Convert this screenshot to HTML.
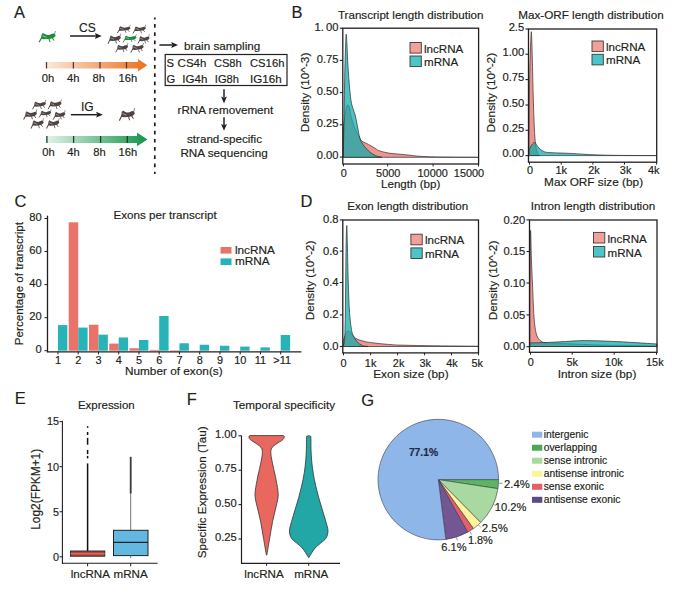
<!DOCTYPE html><html><head><meta charset="utf-8"><style>html,body{margin:0;padding:0;background:#fff;width:700px;height:602px;overflow:hidden}text{font-family:"Liberation Sans",sans-serif}</style></head><body><svg width="700" height="602" viewBox="0 0 700 602" style="display:block" font-family='"Liberation Sans", sans-serif'><rect width="700" height="602" fill="#fff"/><text x="14" y="17.5" font-size="16.5" fill="#231f20" stroke="#231f20" stroke-width="0.18">A</text><g transform="translate(38.5,32) scale(1.233,1.137)" fill="#1f8b3e" color="#1f8b3e"><path d="M2,6.2 L2.4,2.4 L3.5,0.9 C5.2,2 6.6,2.7 8,2.6 C9.5,2.4 10.8,1.5 12.2,1.3 L13.5,1.9 L13.9,3.5 L11.8,5.5 C8.5,6.3 5,6.5 2,6.2 Z"/><path d="M3.1,3.3 L6.6,4.7" fill="none" stroke-width="0.55" stroke="#fff" stroke-opacity="0.75"/><path d="M2.6,5 L0.4,9.1" fill="none" stroke-width="1" stroke="currentColor"/><path d="M8.4,5.9 L9.4,8.8 M11.2,5.4 L12.8,7.5" fill="none" stroke-width="0.85" stroke="currentColor"/><path d="M13,1.8 L13.8,-0.9" fill="none" stroke-width="0.6" stroke="currentColor"/></g><text x="79" y="32.4" font-size="12" fill="#231f20" stroke="#231f20" stroke-width="0.18">CS</text><line x1="70" y1="36" x2="95.9" y2="36" stroke="#231f20" stroke-width="1.5"/><path d="M101.7,36 L94.9,33.1 L96.10000000000001,36 L94.9,38.9 Z" fill="#231f20"/><g transform="translate(116.9,25.6) scale(0.973,0.821)" fill="#4d4541" color="#4d4541"><path d="M2,6.2 L2.4,2.4 L3.5,0.9 C5.2,2 6.6,2.7 8,2.6 C9.5,2.4 10.8,1.5 12.2,1.3 L13.5,1.9 L13.9,3.5 L11.8,5.5 C8.5,6.3 5,6.5 2,6.2 Z"/><path d="M3.1,3.3 L6.6,4.7" fill="none" stroke-width="0.55" stroke="#fff" stroke-opacity="0.75"/><path d="M2.6,5 L0.4,9.1" fill="none" stroke-width="1" stroke="currentColor"/><path d="M8.4,5.9 L9.4,8.8 M11.2,5.4 L12.8,7.5" fill="none" stroke-width="0.85" stroke="currentColor"/><path d="M13,1.8 L13.8,-0.9" fill="none" stroke-width="0.6" stroke="currentColor"/></g><g transform="translate(132.6,25.6) scale(0.953,0.863)" fill="#4d4541" color="#4d4541"><path d="M2,6.2 L2.4,2.4 L3.5,0.9 C5.2,2 6.6,2.7 8,2.6 C9.5,2.4 10.8,1.5 12.2,1.3 L13.5,1.9 L13.9,3.5 L11.8,5.5 C8.5,6.3 5,6.5 2,6.2 Z"/><path d="M3.1,3.3 L6.6,4.7" fill="none" stroke-width="0.55" stroke="#fff" stroke-opacity="0.75"/><path d="M2.6,5 L0.4,9.1" fill="none" stroke-width="1" stroke="currentColor"/><path d="M8.4,5.9 L9.4,8.8 M11.2,5.4 L12.8,7.5" fill="none" stroke-width="0.85" stroke="currentColor"/><path d="M13,1.8 L13.8,-0.9" fill="none" stroke-width="0.6" stroke="currentColor"/></g><g transform="translate(107.6,34.5) scale(0.953,1.011)" fill="#4d4541" color="#4d4541"><path d="M2,6.2 L2.4,2.4 L3.5,0.9 C5.2,2 6.6,2.7 8,2.6 C9.5,2.4 10.8,1.5 12.2,1.3 L13.5,1.9 L13.9,3.5 L11.8,5.5 C8.5,6.3 5,6.5 2,6.2 Z"/><path d="M3.1,3.3 L6.6,4.7" fill="none" stroke-width="0.55" stroke="#fff" stroke-opacity="0.75"/><path d="M2.6,5 L0.4,9.1" fill="none" stroke-width="1" stroke="currentColor"/><path d="M8.4,5.9 L9.4,8.8 M11.2,5.4 L12.8,7.5" fill="none" stroke-width="0.85" stroke="currentColor"/><path d="M13,1.8 L13.8,-0.9" fill="none" stroke-width="0.6" stroke="currentColor"/></g><g transform="translate(137.6,35.2) scale(0.853,0.937)" fill="#4d4541" color="#4d4541"><path d="M2,6.2 L2.4,2.4 L3.5,0.9 C5.2,2 6.6,2.7 8,2.6 C9.5,2.4 10.8,1.5 12.2,1.3 L13.5,1.9 L13.9,3.5 L11.8,5.5 C8.5,6.3 5,6.5 2,6.2 Z"/><path d="M3.1,3.3 L6.6,4.7" fill="none" stroke-width="0.55" stroke="#fff" stroke-opacity="0.75"/><path d="M2.6,5 L0.4,9.1" fill="none" stroke-width="1" stroke="currentColor"/><path d="M8.4,5.9 L9.4,8.8 M11.2,5.4 L12.8,7.5" fill="none" stroke-width="0.85" stroke="currentColor"/><path d="M13,1.8 L13.8,-0.9" fill="none" stroke-width="0.6" stroke="currentColor"/></g><g transform="translate(115.4,43.8) scale(0.907,0.937)" fill="#4d4541" color="#4d4541"><path d="M2,6.2 L2.4,2.4 L3.5,0.9 C5.2,2 6.6,2.7 8,2.6 C9.5,2.4 10.8,1.5 12.2,1.3 L13.5,1.9 L13.9,3.5 L11.8,5.5 C8.5,6.3 5,6.5 2,6.2 Z"/><path d="M3.1,3.3 L6.6,4.7" fill="none" stroke-width="0.55" stroke="#fff" stroke-opacity="0.75"/><path d="M2.6,5 L0.4,9.1" fill="none" stroke-width="1" stroke="currentColor"/><path d="M8.4,5.9 L9.4,8.8 M11.2,5.4 L12.8,7.5" fill="none" stroke-width="0.85" stroke="currentColor"/><path d="M13,1.8 L13.8,-0.9" fill="none" stroke-width="0.6" stroke="currentColor"/></g><g transform="translate(130.4,43.8) scale(0.953,0.968)" fill="#4d4541" color="#4d4541"><path d="M2,6.2 L2.4,2.4 L3.5,0.9 C5.2,2 6.6,2.7 8,2.6 C9.5,2.4 10.8,1.5 12.2,1.3 L13.5,1.9 L13.9,3.5 L11.8,5.5 C8.5,6.3 5,6.5 2,6.2 Z"/><path d="M3.1,3.3 L6.6,4.7" fill="none" stroke-width="0.55" stroke="#fff" stroke-opacity="0.75"/><path d="M2.6,5 L0.4,9.1" fill="none" stroke-width="1" stroke="currentColor"/><path d="M8.4,5.9 L9.4,8.8 M11.2,5.4 L12.8,7.5" fill="none" stroke-width="0.85" stroke="currentColor"/><path d="M13,1.8 L13.8,-0.9" fill="none" stroke-width="0.6" stroke="currentColor"/></g><g transform="translate(122.6,34.9) scale(1.000,0.821)" fill="#1f8b3e" color="#1f8b3e"><path d="M2,6.2 L2.4,2.4 L3.5,0.9 C5.2,2 6.6,2.7 8,2.6 C9.5,2.4 10.8,1.5 12.2,1.3 L13.5,1.9 L13.9,3.5 L11.8,5.5 C8.5,6.3 5,6.5 2,6.2 Z"/><path d="M3.1,3.3 L6.6,4.7" fill="none" stroke-width="0.55" stroke="#fff" stroke-opacity="0.75"/><path d="M2.6,5 L0.4,9.1" fill="none" stroke-width="1" stroke="currentColor"/><path d="M8.4,5.9 L9.4,8.8 M11.2,5.4 L12.8,7.5" fill="none" stroke-width="0.85" stroke="currentColor"/><path d="M13,1.8 L13.8,-0.9" fill="none" stroke-width="0.6" stroke="currentColor"/></g><defs><linearGradient id="og" x1="0" x2="1"><stop offset="0" stop-color="#fbe9dd"/><stop offset="1" stop-color="#e8711f"/></linearGradient><linearGradient id="gg" x1="0" x2="1"><stop offset="0" stop-color="#e3f3e8"/><stop offset="1" stop-color="#12954a"/></linearGradient></defs><path d="M45.7,62 L138,62 L138,59 L147.3,65.2 L138,71.4 L138,68.5 L45.7,68.5 Z" fill="url(#og)"/><line x1="46.5" y1="62" x2="46.5" y2="68.5" stroke="#5a3a28" stroke-width="1.3"/><line x1="73.4" y1="62" x2="73.4" y2="68.5" stroke="#5a3a28" stroke-width="1.3"/><line x1="100" y1="62" x2="100" y2="68.5" stroke="#5a3a28" stroke-width="1.3"/><line x1="126.5" y1="62" x2="126.5" y2="68.5" stroke="#5a3a28" stroke-width="1.3"/><text x="48" y="82" font-size="11.2" text-anchor="middle" fill="#231f20" stroke="#231f20" stroke-width="0.18">0h</text><text x="73.2" y="82" font-size="11.2" text-anchor="middle" fill="#231f20" stroke="#231f20" stroke-width="0.18">4h</text><text x="98.8" y="82" font-size="11.2" text-anchor="middle" fill="#231f20" stroke="#231f20" stroke-width="0.18">8h</text><text x="127.8" y="82" font-size="11.2" text-anchor="middle" fill="#231f20" stroke="#231f20" stroke-width="0.18">16h</text><line x1="154.8" y1="17.6" x2="154.8" y2="174" stroke="#231f20" stroke-width="1.7" stroke-dasharray="3.7,4.5" stroke-dashoffset="1.7"/><g transform="translate(32.1,100.7) scale(0.993,0.937)" fill="#4d4541" color="#4d4541"><path d="M2,6.2 L2.4,2.4 L3.5,0.9 C5.2,2 6.6,2.7 8,2.6 C9.5,2.4 10.8,1.5 12.2,1.3 L13.5,1.9 L13.9,3.5 L11.8,5.5 C8.5,6.3 5,6.5 2,6.2 Z"/><path d="M3.1,3.3 L6.6,4.7" fill="none" stroke-width="0.55" stroke="#fff" stroke-opacity="0.75"/><path d="M2.6,5 L0.4,9.1" fill="none" stroke-width="1" stroke="currentColor"/><path d="M8.4,5.9 L9.4,8.8 M11.2,5.4 L12.8,7.5" fill="none" stroke-width="0.85" stroke="currentColor"/><path d="M13,1.8 L13.8,-0.9" fill="none" stroke-width="0.6" stroke="currentColor"/></g><g transform="translate(47.7,100.3) scale(0.993,0.979)" fill="#4d4541" color="#4d4541"><path d="M2,6.2 L2.4,2.4 L3.5,0.9 C5.2,2 6.6,2.7 8,2.6 C9.5,2.4 10.8,1.5 12.2,1.3 L13.5,1.9 L13.9,3.5 L11.8,5.5 C8.5,6.3 5,6.5 2,6.2 Z"/><path d="M3.1,3.3 L6.6,4.7" fill="none" stroke-width="0.55" stroke="#fff" stroke-opacity="0.75"/><path d="M2.6,5 L0.4,9.1" fill="none" stroke-width="1" stroke="currentColor"/><path d="M8.4,5.9 L9.4,8.8 M11.2,5.4 L12.8,7.5" fill="none" stroke-width="0.85" stroke="currentColor"/><path d="M13,1.8 L13.8,-0.9" fill="none" stroke-width="0.6" stroke="currentColor"/></g><g transform="translate(23.2,110.3) scale(0.987,1.021)" fill="#4d4541" color="#4d4541"><path d="M2,6.2 L2.4,2.4 L3.5,0.9 C5.2,2 6.6,2.7 8,2.6 C9.5,2.4 10.8,1.5 12.2,1.3 L13.5,1.9 L13.9,3.5 L11.8,5.5 C8.5,6.3 5,6.5 2,6.2 Z"/><path d="M3.1,3.3 L6.6,4.7" fill="none" stroke-width="0.55" stroke="#fff" stroke-opacity="0.75"/><path d="M2.6,5 L0.4,9.1" fill="none" stroke-width="1" stroke="currentColor"/><path d="M8.4,5.9 L9.4,8.8 M11.2,5.4 L12.8,7.5" fill="none" stroke-width="0.85" stroke="currentColor"/><path d="M13,1.8 L13.8,-0.9" fill="none" stroke-width="0.6" stroke="currentColor"/></g><g transform="translate(38.8,110) scale(0.893,0.821)" fill="#4d4541" color="#4d4541"><path d="M2,6.2 L2.4,2.4 L3.5,0.9 C5.2,2 6.6,2.7 8,2.6 C9.5,2.4 10.8,1.5 12.2,1.3 L13.5,1.9 L13.9,3.5 L11.8,5.5 C8.5,6.3 5,6.5 2,6.2 Z"/><path d="M3.1,3.3 L6.6,4.7" fill="none" stroke-width="0.55" stroke="#fff" stroke-opacity="0.75"/><path d="M2.6,5 L0.4,9.1" fill="none" stroke-width="1" stroke="currentColor"/><path d="M8.4,5.9 L9.4,8.8 M11.2,5.4 L12.8,7.5" fill="none" stroke-width="0.85" stroke="currentColor"/><path d="M13,1.8 L13.8,-0.9" fill="none" stroke-width="0.6" stroke="currentColor"/></g><g transform="translate(52.9,111) scale(0.893,0.947)" fill="#4d4541" color="#4d4541"><path d="M2,6.2 L2.4,2.4 L3.5,0.9 C5.2,2 6.6,2.7 8,2.6 C9.5,2.4 10.8,1.5 12.2,1.3 L13.5,1.9 L13.9,3.5 L11.8,5.5 C8.5,6.3 5,6.5 2,6.2 Z"/><path d="M3.1,3.3 L6.6,4.7" fill="none" stroke-width="0.55" stroke="#fff" stroke-opacity="0.75"/><path d="M2.6,5 L0.4,9.1" fill="none" stroke-width="1" stroke="currentColor"/><path d="M8.4,5.9 L9.4,8.8 M11.2,5.4 L12.8,7.5" fill="none" stroke-width="0.85" stroke="currentColor"/><path d="M13,1.8 L13.8,-0.9" fill="none" stroke-width="0.6" stroke="currentColor"/></g><g transform="translate(30.6,119.3) scale(0.940,1.011)" fill="#4d4541" color="#4d4541"><path d="M2,6.2 L2.4,2.4 L3.5,0.9 C5.2,2 6.6,2.7 8,2.6 C9.5,2.4 10.8,1.5 12.2,1.3 L13.5,1.9 L13.9,3.5 L11.8,5.5 C8.5,6.3 5,6.5 2,6.2 Z"/><path d="M3.1,3.3 L6.6,4.7" fill="none" stroke-width="0.55" stroke="#fff" stroke-opacity="0.75"/><path d="M2.6,5 L0.4,9.1" fill="none" stroke-width="1" stroke="currentColor"/><path d="M8.4,5.9 L9.4,8.8 M11.2,5.4 L12.8,7.5" fill="none" stroke-width="0.85" stroke="currentColor"/><path d="M13,1.8 L13.8,-0.9" fill="none" stroke-width="0.6" stroke="currentColor"/></g><g transform="translate(46.2,119.3) scale(0.940,1.011)" fill="#4d4541" color="#4d4541"><path d="M2,6.2 L2.4,2.4 L3.5,0.9 C5.2,2 6.6,2.7 8,2.6 C9.5,2.4 10.8,1.5 12.2,1.3 L13.5,1.9 L13.9,3.5 L11.8,5.5 C8.5,6.3 5,6.5 2,6.2 Z"/><path d="M3.1,3.3 L6.6,4.7" fill="none" stroke-width="0.55" stroke="#fff" stroke-opacity="0.75"/><path d="M2.6,5 L0.4,9.1" fill="none" stroke-width="1" stroke="currentColor"/><path d="M8.4,5.9 L9.4,8.8 M11.2,5.4 L12.8,7.5" fill="none" stroke-width="0.85" stroke="currentColor"/><path d="M13,1.8 L13.8,-0.9" fill="none" stroke-width="0.6" stroke="currentColor"/></g><text x="81" y="110.9" font-size="12" fill="#231f20" stroke="#231f20" stroke-width="0.18">IG</text><line x1="70.9" y1="114.7" x2="97.10000000000001" y2="114.7" stroke="#231f20" stroke-width="1.5"/><path d="M102.9,114.7 L96.10000000000001,111.8 L97.30000000000001,114.7 L96.10000000000001,117.60000000000001 Z" fill="#231f20"/><g transform="translate(118.9,109.3) scale(1.140,1.242)" fill="#4d4541" color="#4d4541"><path d="M2,6.2 L2.4,2.4 L3.5,0.9 C5.2,2 6.6,2.7 8,2.6 C9.5,2.4 10.8,1.5 12.2,1.3 L13.5,1.9 L13.9,3.5 L11.8,5.5 C8.5,6.3 5,6.5 2,6.2 Z"/><path d="M3.1,3.3 L6.6,4.7" fill="none" stroke-width="0.55" stroke="#fff" stroke-opacity="0.75"/><path d="M2.6,5 L0.4,9.1" fill="none" stroke-width="1" stroke="currentColor"/><path d="M8.4,5.9 L9.4,8.8 M11.2,5.4 L12.8,7.5" fill="none" stroke-width="0.85" stroke="currentColor"/><path d="M13,1.8 L13.8,-0.9" fill="none" stroke-width="0.6" stroke="currentColor"/></g><path d="M45.7,136 L137,136 L137,132.6 L147.4,139.45 L137,146.3 L137,142.9 L45.7,142.9 Z" fill="url(#gg)"/><line x1="46.9" y1="136" x2="46.9" y2="142.9" stroke="#1a3f2c" stroke-width="1.3"/><line x1="73.6" y1="136" x2="73.6" y2="142.9" stroke="#1a3f2c" stroke-width="1.3"/><line x1="100.6" y1="136" x2="100.6" y2="142.9" stroke="#1a3f2c" stroke-width="1.3"/><line x1="127.3" y1="136" x2="127.3" y2="142.9" stroke="#1a3f2c" stroke-width="1.3"/><text x="48.5" y="156.4" font-size="11.2" text-anchor="middle" fill="#231f20" stroke="#231f20" stroke-width="0.18">0h</text><text x="73.5" y="156.4" font-size="11.2" text-anchor="middle" fill="#231f20" stroke="#231f20" stroke-width="0.18">4h</text><text x="99.5" y="156.4" font-size="11.2" text-anchor="middle" fill="#231f20" stroke="#231f20" stroke-width="0.18">8h</text><text x="127.8" y="156.4" font-size="11.2" text-anchor="middle" fill="#231f20" stroke="#231f20" stroke-width="0.18">16h</text><line x1="159.4" y1="45" x2="172.2" y2="45" stroke="#231f20" stroke-width="1.5"/><path d="M178,45 L171.2,42.1 L172.39999999999998,45 L171.2,47.9 Z" fill="#231f20"/><text x="184.1" y="49.7" font-size="11.6" textLength="76.2" lengthAdjust="spacingAndGlyphs" fill="#231f20" stroke="#231f20" stroke-width="0.18">brain sampling</text><rect x="165.2" y="54.5" width="121.8" height="31" fill="none" stroke="#231f20" stroke-width="1.2"/><text x="166.4" y="67.4" font-size="11.2" fill="#231f20" stroke="#231f20" stroke-width="0.18">S</text><text x="177.6" y="67.4" font-size="11.2" textLength="28.8" lengthAdjust="spacingAndGlyphs" fill="#231f20" stroke="#231f20" stroke-width="0.18">CS4h</text><text x="213.9" y="67.4" font-size="11.2" textLength="27.8" lengthAdjust="spacingAndGlyphs" fill="#231f20" stroke="#231f20" stroke-width="0.18">CS8h</text><text x="250" y="67.4" font-size="11.2" textLength="34.4" lengthAdjust="spacingAndGlyphs" fill="#231f20" stroke="#231f20" stroke-width="0.18">CS16h</text><text x="166.5" y="83.1" font-size="11.2" fill="#231f20" stroke="#231f20" stroke-width="0.18">G</text><text x="182.3" y="83.1" font-size="11.2" textLength="25.1" lengthAdjust="spacingAndGlyphs" fill="#231f20" stroke="#231f20" stroke-width="0.18">IG4h</text><text x="214.8" y="83.1" font-size="11.2" textLength="24.2" lengthAdjust="spacingAndGlyphs" fill="#231f20" stroke="#231f20" stroke-width="0.18">IG8h</text><text x="250" y="83.1" font-size="11.2" textLength="31.6" lengthAdjust="spacingAndGlyphs" fill="#231f20" stroke="#231f20" stroke-width="0.18">IG16h</text><line x1="224" y1="89.2" x2="224" y2="97.60000000000001" stroke="#231f20" stroke-width="1.5"/><path d="M224,103.4 L221.1,96.60000000000001 L224,97.80000000000001 L226.9,96.60000000000001 Z" fill="#231f20"/><text x="177.6" y="113.8" font-size="11.6" textLength="95.7" lengthAdjust="spacingAndGlyphs" fill="#231f20" stroke="#231f20" stroke-width="0.18">rRNA removement</text><line x1="224" y1="117.3" x2="224" y2="125.00000000000001" stroke="#231f20" stroke-width="1.5"/><path d="M224,130.8 L221.1,124.00000000000001 L224,125.20000000000002 L226.9,124.00000000000001 Z" fill="#231f20"/><text x="187" y="142.6" font-size="11.6" textLength="75" lengthAdjust="spacingAndGlyphs" fill="#231f20" stroke="#231f20" stroke-width="0.18">strand-specific</text><text x="180.4" y="157" font-size="11.6" textLength="87.3" lengthAdjust="spacingAndGlyphs" fill="#231f20" stroke="#231f20" stroke-width="0.18">RNA sequencing</text><text x="291.5" y="18" font-size="16.5" fill="#231f20" stroke="#231f20" stroke-width="0.18">B</text><text x="337.9" y="18.5" font-size="11.6" textLength="145.5" lengthAdjust="spacingAndGlyphs" fill="#231f20" stroke="#231f20" stroke-width="0.18">Transcript length distribution</text><path d="M343.30,128.00 C343.48,126.72 343.95,123.47 344.40,120.30 C344.85,117.13 345.45,111.55 346.00,109.00 C346.55,106.45 347.12,105.17 347.70,105.00 C348.28,104.83 348.95,106.17 349.50,108.00 C350.05,109.83 350.20,112.83 351.00,116.00 C351.80,119.17 352.83,123.33 354.30,127.00 C355.77,130.67 358.52,135.63 359.80,138.00 C361.08,140.37 360.53,140.12 362.00,141.20 C363.47,142.28 366.40,143.30 368.60,144.50 C370.80,145.70 373.30,147.32 375.20,148.40 C377.10,149.48 377.53,150.18 380.00,151.00 C382.47,151.82 386.67,152.77 390.00,153.30 C393.33,153.83 396.67,153.88 400.00,154.20 C403.33,154.52 406.67,154.85 410.00,155.20 C413.33,155.55 415.00,156.00 420.00,156.30 C425.00,156.60 430.33,156.83 440.00,157.00 C449.67,157.17 471.67,157.25 478.00,157.30 L478.00,157.3 L343.30,157.3 Z" fill="#e9776f" stroke="#2a2a2a" stroke-width="0.8" fill-opacity="0.78" stroke-opacity="0.85"/><path d="M343.30,156.00 C343.42,150.00 343.75,134.00 344.00,120.00 C344.25,106.00 344.53,84.50 344.80,72.00 C345.07,59.50 345.37,51.30 345.60,45.00 C345.83,38.70 345.97,34.20 346.20,34.20 C346.43,34.20 346.75,40.53 347.00,45.00 C347.25,49.47 347.33,54.67 347.70,61.00 C348.07,67.33 348.65,76.42 349.20,83.00 C349.75,89.58 350.33,96.12 351.00,100.50 C351.67,104.88 352.47,106.72 353.20,109.30 C353.93,111.88 354.67,113.05 355.40,116.00 C356.13,118.95 356.87,123.35 357.60,127.00 C358.33,130.65 358.90,134.98 359.80,137.90 C360.70,140.82 361.53,142.32 363.00,144.50 C364.47,146.68 366.57,149.17 368.60,151.00 C370.63,152.83 372.97,154.45 375.20,155.50 C377.43,156.55 380.87,157.00 382.00,157.30 L382.00,157.3 L343.30,157.3 Z" fill="#13acac" stroke="#2a2a2a" stroke-width="0.8" fill-opacity="0.75" stroke-opacity="0.85"/><rect x="342.8" y="28.2" width="135.8" height="135.8" fill="none" stroke="#231f20" stroke-width="1.3"/><line x1="339.8" y1="28.2" x2="342.8" y2="28.2" stroke="#231f20" stroke-width="1.1"/><text x="338.5" y="30.5" font-size="11.2" text-anchor="end" fill="#231f20" stroke="#231f20" stroke-width="0.18">1.&#8201;00</text><line x1="339.8" y1="60.4" x2="342.8" y2="60.4" stroke="#231f20" stroke-width="1.1"/><text x="338.5" y="62.699999999999996" font-size="11.2" text-anchor="end" fill="#231f20" stroke="#231f20" stroke-width="0.18">0.75</text><line x1="339.8" y1="92.6" x2="342.8" y2="92.6" stroke="#231f20" stroke-width="1.1"/><text x="338.5" y="94.89999999999999" font-size="11.2" text-anchor="end" fill="#231f20" stroke="#231f20" stroke-width="0.18">0.50</text><line x1="339.8" y1="124.8" x2="342.8" y2="124.8" stroke="#231f20" stroke-width="1.1"/><text x="338.5" y="127.1" font-size="11.2" text-anchor="end" fill="#231f20" stroke="#231f20" stroke-width="0.18">0.25</text><line x1="339.8" y1="157.1" x2="342.8" y2="157.1" stroke="#231f20" stroke-width="1.1"/><text x="338.5" y="159.4" font-size="11.2" text-anchor="end" fill="#231f20" stroke="#231f20" stroke-width="0.18">0.00</text><line x1="343.5" y1="164" x2="343.5" y2="166.4" stroke="#231f20" stroke-width="1"/><text x="343.8" y="177.3" font-size="10.9" text-anchor="middle" fill="#231f20" stroke="#231f20" stroke-width="0.18">0</text><line x1="387.7" y1="164" x2="387.7" y2="166.4" stroke="#231f20" stroke-width="1"/><text x="388.2" y="177.3" font-size="10.9" text-anchor="middle" fill="#231f20" stroke="#231f20" stroke-width="0.18">5000</text><line x1="433.1" y1="164" x2="433.1" y2="166.4" stroke="#231f20" stroke-width="1"/><text x="432.7" y="177.3" font-size="10.9" text-anchor="middle" fill="#231f20" stroke="#231f20" stroke-width="0.18">10000</text><line x1="478.5" y1="164" x2="478.5" y2="166.4" stroke="#231f20" stroke-width="1"/><text x="469" y="177.3" font-size="10.9" text-anchor="middle" fill="#231f20" stroke="#231f20" stroke-width="0.18">15000</text><text x="410.7" y="188" font-size="11.6" text-anchor="middle" fill="#231f20" stroke="#231f20" stroke-width="0.18">Length (bp)</text><text x="0" y="0" font-size="11.8" text-anchor="middle" fill="#231f20" stroke="#231f20" stroke-width="0.18" transform="translate(309,92.5) rotate(-90)">Density (10^-3)</text><rect x="410" y="42.5" width="11.3" height="10.6" fill="#f4a09a" stroke="#3a3a3a" stroke-width="0.9"/><rect x="410" y="56" width="11.3" height="10.6" fill="#4cc4c9" stroke="#3a3a3a" stroke-width="0.9"/><text x="424.0" y="52.6" font-size="11.6" fill="#231f20" stroke="#231f20" stroke-width="0.18">lncRNA</text><text x="424.0" y="66.1" font-size="11.6" fill="#231f20" stroke="#231f20" stroke-width="0.18">mRNA</text><text x="518.2" y="18.6" font-size="11.6" textLength="145.5" lengthAdjust="spacingAndGlyphs" fill="#231f20" stroke="#231f20" stroke-width="0.18">Max-ORF length distribution</text><path d="M528.90,140.00 C528.95,135.00 529.05,121.67 529.20,110.00 C529.35,98.33 529.57,80.83 529.80,70.00 C530.03,59.17 530.33,51.33 530.60,45.00 C530.87,38.67 531.12,29.83 531.40,32.00 C531.68,34.17 532.00,47.50 532.30,58.00 C532.60,68.50 532.92,84.67 533.20,95.00 C533.48,105.33 533.73,113.17 534.00,120.00 C534.27,126.83 534.50,131.67 534.80,136.00 C535.10,140.33 535.40,143.25 535.80,146.00 C536.20,148.75 536.58,150.90 537.20,152.50 C537.82,154.10 539.12,155.08 539.50,155.60 L539.50,155.6 L528.90,155.6 Z" fill="#e9776f" stroke="#2a2a2a" stroke-width="0.8" fill-opacity="0.78" stroke-opacity="0.85"/><path d="M529.00,150.60 C529.33,149.83 530.08,147.37 531.00,146.00 C531.92,144.63 533.50,142.48 534.50,142.40 C535.50,142.32 536.03,144.33 537.00,145.50 C537.97,146.67 539.13,148.40 540.30,149.40 C541.47,150.40 542.83,151.00 544.00,151.50 C545.17,152.00 544.63,152.15 547.30,152.40 C549.97,152.65 556.13,152.83 560.00,153.00 C563.87,153.17 566.33,153.18 570.50,153.40 C574.67,153.62 580.08,154.03 585.00,154.30 C589.92,154.57 594.17,154.82 600.00,155.00 C605.83,155.18 610.67,155.30 620.00,155.40 C629.33,155.50 650.00,155.57 656.00,155.60 L656.00,155.6 L529.00,155.6 Z" fill="#13acac" stroke="#2a2a2a" stroke-width="0.8" fill-opacity="0.75" stroke-opacity="0.85"/><rect x="528.5" y="29" width="128.20000000000005" height="133.2" fill="none" stroke="#231f20" stroke-width="1.3"/><line x1="525.5" y1="29" x2="528.5" y2="29" stroke="#231f20" stroke-width="1.1"/><text x="524.2" y="30.8" font-size="11.2" text-anchor="end" fill="#231f20" stroke="#231f20" stroke-width="0.18">2.5</text><line x1="525.5" y1="54.2" x2="528.5" y2="54.2" stroke="#231f20" stroke-width="1.1"/><text x="524.2" y="56.0" font-size="11.2" text-anchor="end" fill="#231f20" stroke="#231f20" stroke-width="0.18">1.00</text><line x1="525.5" y1="79.6" x2="528.5" y2="79.6" stroke="#231f20" stroke-width="1.1"/><text x="524.2" y="81.39999999999999" font-size="11.2" text-anchor="end" fill="#231f20" stroke="#231f20" stroke-width="0.18">0.75</text><line x1="525.5" y1="105" x2="528.5" y2="105" stroke="#231f20" stroke-width="1.1"/><text x="524.2" y="106.8" font-size="11.2" text-anchor="end" fill="#231f20" stroke="#231f20" stroke-width="0.18">0.50</text><line x1="525.5" y1="130.3" x2="528.5" y2="130.3" stroke="#231f20" stroke-width="1.1"/><text x="524.2" y="132.10000000000002" font-size="11.2" text-anchor="end" fill="#231f20" stroke="#231f20" stroke-width="0.18">0.25</text><line x1="525.5" y1="155.6" x2="528.5" y2="155.6" stroke="#231f20" stroke-width="1.1"/><text x="524.2" y="157.4" font-size="11.2" text-anchor="end" fill="#231f20" stroke="#231f20" stroke-width="0.18">0.00</text><line x1="529.5" y1="162.2" x2="529.5" y2="164.6" stroke="#231f20" stroke-width="1"/><text x="530" y="174.3" font-size="10.9" text-anchor="middle" fill="#231f20" stroke="#231f20" stroke-width="0.18">0</text><line x1="561.2" y1="162.2" x2="561.2" y2="164.6" stroke="#231f20" stroke-width="1"/><text x="561.2" y="174.3" font-size="10.9" text-anchor="middle" fill="#231f20" stroke="#231f20" stroke-width="0.18">1k</text><line x1="592.9" y1="162.2" x2="592.9" y2="164.6" stroke="#231f20" stroke-width="1"/><text x="594" y="174.3" font-size="10.9" text-anchor="middle" fill="#231f20" stroke="#231f20" stroke-width="0.18">2k</text><line x1="624.5" y1="162.2" x2="624.5" y2="164.6" stroke="#231f20" stroke-width="1"/><text x="625.6" y="174.3" font-size="10.9" text-anchor="middle" fill="#231f20" stroke="#231f20" stroke-width="0.18">3k</text><line x1="656.6" y1="162.2" x2="656.6" y2="164.6" stroke="#231f20" stroke-width="1"/><text x="653.8" y="174.3" font-size="10.9" text-anchor="middle" fill="#231f20" stroke="#231f20" stroke-width="0.18">4k</text><text x="593.6" y="186.4" font-size="11.8" text-anchor="middle" fill="#231f20" stroke="#231f20" stroke-width="0.18">Max ORF size (bp)</text><text x="0" y="0" font-size="11.8" text-anchor="middle" fill="#231f20" stroke="#231f20" stroke-width="0.18" transform="translate(494.6,92.7) rotate(-90)">Density (10^-2)</text><rect x="592" y="41" width="11.3" height="10.6" fill="#f4a09a" stroke="#3a3a3a" stroke-width="0.9"/><rect x="592" y="54.3" width="11.3" height="10.6" fill="#4cc4c9" stroke="#3a3a3a" stroke-width="0.9"/><text x="606.0" y="51.1" font-size="11.6" fill="#231f20" stroke="#231f20" stroke-width="0.18">lncRNA</text><text x="606.0" y="64.39999999999999" font-size="11.6" fill="#231f20" stroke="#231f20" stroke-width="0.18">mRNA</text><text x="14.6" y="206.8" font-size="16.5" fill="#231f20" stroke="#231f20" stroke-width="0.18">C</text><text x="113.6" y="218.9" font-size="11.6" fill="#231f20" stroke="#231f20" stroke-width="0.18">Exons per transcript</text><line x1="47.5" y1="215.7" x2="47.5" y2="352.4" stroke="#231f20" stroke-width="1.3"/><line x1="47.5" y1="351.8" x2="301.4" y2="351.8" stroke="#231f20" stroke-width="1.3"/><line x1="44.5" y1="218.49999999999997" x2="47.5" y2="218.49999999999997" stroke="#231f20" stroke-width="1"/><text x="41.8" y="221.19999999999996" font-size="11.2" text-anchor="end" fill="#231f20" stroke="#231f20" stroke-width="0.18">80</text><line x1="44.5" y1="251.54999999999998" x2="47.5" y2="251.54999999999998" stroke="#231f20" stroke-width="1"/><text x="41.8" y="254.24999999999997" font-size="11.2" text-anchor="end" fill="#231f20" stroke="#231f20" stroke-width="0.18">60</text><line x1="44.5" y1="284.59999999999997" x2="47.5" y2="284.59999999999997" stroke="#231f20" stroke-width="1"/><text x="41.8" y="287.29999999999995" font-size="11.2" text-anchor="end" fill="#231f20" stroke="#231f20" stroke-width="0.18">40</text><line x1="44.5" y1="317.65" x2="47.5" y2="317.65" stroke="#231f20" stroke-width="1"/><text x="41.8" y="320.34999999999997" font-size="11.2" text-anchor="end" fill="#231f20" stroke="#231f20" stroke-width="0.18">20</text><line x1="44.5" y1="350.7" x2="47.5" y2="350.7" stroke="#231f20" stroke-width="1"/><text x="41.8" y="353.4" font-size="11.2" text-anchor="end" fill="#231f20" stroke="#231f20" stroke-width="0.18">0</text><rect x="57.95" y="325.08625" width="9.4" height="25.613749999999982" fill="#27b3b7"/><line x1="57.95" y1="351.4" x2="57.95" y2="354.4" stroke="#231f20" stroke-width="1"/><text x="57.95" y="364.3" font-size="10.9" text-anchor="middle" fill="#231f20" stroke="#231f20" stroke-width="0.18">1</text><rect x="68.7" y="222.30074999999997" width="9.5" height="128.39925000000002" fill="#ea7369"/><rect x="78.2" y="327.565" width="9.4" height="23.13499999999999" fill="#27b3b7"/><line x1="78.2" y1="351.4" x2="78.2" y2="354.4" stroke="#231f20" stroke-width="1"/><text x="78.2" y="364.3" font-size="10.9" text-anchor="middle" fill="#231f20" stroke="#231f20" stroke-width="0.18">2</text><rect x="88.95" y="324.75575" width="9.5" height="25.94425000000001" fill="#ea7369"/><rect x="98.45" y="334.67075" width="9.4" height="16.02924999999999" fill="#27b3b7"/><line x1="98.45" y1="351.4" x2="98.45" y2="354.4" stroke="#231f20" stroke-width="1"/><text x="98.45" y="364.3" font-size="10.9" text-anchor="middle" fill="#231f20" stroke="#231f20" stroke-width="0.18">3</text><rect x="109.2" y="343.59425" width="9.5" height="7.1057500000000005" fill="#ea7369"/><rect x="118.7" y="337.47999999999996" width="9.4" height="13.220000000000027" fill="#27b3b7"/><line x1="118.7" y1="351.4" x2="118.7" y2="354.4" stroke="#231f20" stroke-width="1"/><text x="118.7" y="364.3" font-size="10.9" text-anchor="middle" fill="#231f20" stroke="#231f20" stroke-width="0.18">4</text><rect x="129.45" y="348.22125" width="9.5" height="2.478749999999991" fill="#ea7369"/><rect x="138.95" y="339.95875" width="9.4" height="10.74124999999998" fill="#27b3b7"/><line x1="138.95" y1="351.4" x2="138.95" y2="354.4" stroke="#231f20" stroke-width="1"/><text x="138.95" y="364.3" font-size="10.9" text-anchor="middle" fill="#231f20" stroke="#231f20" stroke-width="0.18">5</text><rect x="149.7" y="349.87375" width="9.5" height="0.8262500000000159" fill="#ea7369"/><rect x="159.2" y="315.9975" width="9.4" height="34.702499999999986" fill="#27b3b7"/><line x1="159.2" y1="351.4" x2="159.2" y2="354.4" stroke="#231f20" stroke-width="1"/><text x="159.2" y="364.3" font-size="10.9" text-anchor="middle" fill="#231f20" stroke="#231f20" stroke-width="0.18">6</text><rect x="169.95" y="350.20425" width="9.5" height="0.4957499999999868" fill="#ea7369"/><rect x="179.45" y="343.26375" width="9.4" height="7.436249999999973" fill="#27b3b7"/><line x1="179.45" y1="351.4" x2="179.45" y2="354.4" stroke="#231f20" stroke-width="1"/><text x="179.45" y="364.3" font-size="10.9" text-anchor="middle" fill="#231f20" stroke="#231f20" stroke-width="0.18">7</text><rect x="190.2" y="350.53475" width="9.5" height="0.16525000000001455" fill="#ea7369"/><rect x="199.7" y="344.751" width="9.4" height="5.949000000000012" fill="#27b3b7"/><line x1="199.7" y1="351.4" x2="199.7" y2="354.4" stroke="#231f20" stroke-width="1"/><text x="199.7" y="364.3" font-size="10.9" text-anchor="middle" fill="#231f20" stroke="#231f20" stroke-width="0.18">8</text><rect x="219.95" y="345.7425" width="9.4" height="4.957499999999982" fill="#27b3b7"/><line x1="219.95" y1="351.4" x2="219.95" y2="354.4" stroke="#231f20" stroke-width="1"/><text x="219.95" y="364.3" font-size="10.9" text-anchor="middle" fill="#231f20" stroke="#231f20" stroke-width="0.18">9</text><rect x="240.2" y="346.56874999999997" width="9.4" height="4.131250000000023" fill="#27b3b7"/><line x1="240.2" y1="351.4" x2="240.2" y2="354.4" stroke="#231f20" stroke-width="1"/><text x="240.2" y="364.3" font-size="10.9" text-anchor="middle" fill="#231f20" stroke="#231f20" stroke-width="0.18">10</text><rect x="260.45" y="347.395" width="9.4" height="3.305000000000007" fill="#27b3b7"/><line x1="260.45" y1="351.4" x2="260.45" y2="354.4" stroke="#231f20" stroke-width="1"/><text x="260.45" y="364.3" font-size="10.9" text-anchor="middle" fill="#231f20" stroke="#231f20" stroke-width="0.18">11</text><rect x="280.7" y="335.00124999999997" width="9.4" height="15.698750000000018" fill="#27b3b7"/><line x1="280.7" y1="351.4" x2="280.7" y2="354.4" stroke="#231f20" stroke-width="1"/><text x="282.2" y="364.3" font-size="10.9" text-anchor="middle" fill="#231f20" stroke="#231f20" stroke-width="0.18">&gt;11</text><text x="124.9" y="375.4" font-size="11.6" textLength="97.8" lengthAdjust="spacingAndGlyphs" fill="#231f20" stroke="#231f20" stroke-width="0.18">Number of exon(s)</text><text x="0" y="0" font-size="11.6" text-anchor="middle" fill="#231f20" stroke="#231f20" stroke-width="0.18" transform="translate(22.6,283.6) rotate(-90)">Percentage of transcript</text><rect x="220.5" y="247" width="11" height="6.6" fill="#ea7369"/><rect x="220.5" y="258.4" width="11" height="6.6" fill="#27b3b7"/><text x="234.9" y="253.8" font-size="11.8" fill="#231f20" stroke="#231f20" stroke-width="0.18">lncRNA</text><text x="234.9" y="265" font-size="11.8" fill="#231f20" stroke="#231f20" stroke-width="0.18">mRNA</text><text x="300.6" y="206.6" font-size="16.5" fill="#231f20" stroke="#231f20" stroke-width="0.18">D</text><text x="347.3" y="210" font-size="11.6" textLength="121" lengthAdjust="spacingAndGlyphs" fill="#231f20" stroke="#231f20" stroke-width="0.18">Exon length distribution</text><path d="M343.20,340.50 C343.33,340.13 343.45,339.63 344.00,338.30 C344.55,336.97 345.73,333.78 346.50,332.50 C347.27,331.22 347.88,330.52 348.60,330.60 C349.32,330.68 350.08,332.15 350.80,333.00 C351.52,333.85 351.85,334.68 352.90,335.70 C353.95,336.72 354.97,338.10 357.10,339.10 C359.23,340.10 362.83,341.05 365.70,341.70 C368.57,342.35 370.73,342.57 374.30,343.00 C377.87,343.43 382.82,343.95 387.10,344.30 C391.38,344.65 392.85,344.87 400.00,345.10 C407.15,345.33 417.00,345.52 430.00,345.70 C443.00,345.88 470.00,346.12 478.00,346.20 L478.00,346.5 L343.20,346.5 Z" fill="#e9776f" stroke="#2a2a2a" stroke-width="0.8" fill-opacity="0.78" stroke-opacity="0.85"/><path d="M343.20,346.30 C343.43,345.25 344.25,345.22 344.60,340.00 C344.95,334.78 345.12,325.00 345.30,315.00 C345.48,305.00 345.57,291.67 345.70,280.00 C345.83,268.33 345.92,254.08 346.10,245.00 C346.28,235.92 346.58,225.50 346.80,225.50 C347.02,225.50 347.17,235.92 347.40,245.00 C347.63,254.08 347.87,269.17 348.20,280.00 C348.53,290.83 348.92,302.15 349.40,310.00 C349.88,317.85 350.52,322.95 351.10,327.10 C351.68,331.25 351.90,332.47 352.90,334.90 C353.90,337.33 355.53,339.92 357.10,341.70 C358.67,343.48 360.48,344.80 362.30,345.60 C364.12,346.40 367.05,346.35 368.00,346.50 L368.00,346.5 L343.20,346.5 Z" fill="#13acac" stroke="#2a2a2a" stroke-width="0.8" fill-opacity="0.75" stroke-opacity="0.85"/><rect x="342.8" y="220" width="135.7" height="132.89999999999998" fill="none" stroke="#231f20" stroke-width="1.3"/><line x1="339.8" y1="219.9" x2="342.8" y2="219.9" stroke="#231f20" stroke-width="1.1"/><text x="338.5" y="223.3" font-size="11.2" text-anchor="end" fill="#231f20" stroke="#231f20" stroke-width="0.18">0.8</text><line x1="339.8" y1="251.1" x2="342.8" y2="251.1" stroke="#231f20" stroke-width="1.1"/><text x="338.5" y="254.5" font-size="11.2" text-anchor="end" fill="#231f20" stroke="#231f20" stroke-width="0.18">0.6</text><line x1="339.8" y1="282.5" x2="342.8" y2="282.5" stroke="#231f20" stroke-width="1.1"/><text x="338.5" y="285.9" font-size="11.2" text-anchor="end" fill="#231f20" stroke="#231f20" stroke-width="0.18">0.4</text><line x1="339.8" y1="314.9" x2="342.8" y2="314.9" stroke="#231f20" stroke-width="1.1"/><text x="338.5" y="318.29999999999995" font-size="11.2" text-anchor="end" fill="#231f20" stroke="#231f20" stroke-width="0.18">0.2</text><line x1="339.8" y1="346.5" x2="342.8" y2="346.5" stroke="#231f20" stroke-width="1.1"/><text x="338.5" y="349.9" font-size="11.2" text-anchor="end" fill="#231f20" stroke="#231f20" stroke-width="0.18">0.0</text><line x1="343.5" y1="352.9" x2="343.5" y2="355.29999999999995" stroke="#231f20" stroke-width="1"/><text x="343.6" y="367.2" font-size="10.9" text-anchor="middle" fill="#231f20" stroke="#231f20" stroke-width="0.18">0</text><line x1="370.6" y1="352.9" x2="370.6" y2="355.29999999999995" stroke="#231f20" stroke-width="1"/><text x="370.6" y="367.2" font-size="10.9" text-anchor="middle" fill="#231f20" stroke="#231f20" stroke-width="0.18">1k</text><line x1="397.6" y1="352.9" x2="397.6" y2="355.29999999999995" stroke="#231f20" stroke-width="1"/><text x="398.6" y="367.2" font-size="10.9" text-anchor="middle" fill="#231f20" stroke="#231f20" stroke-width="0.18">2k</text><line x1="424.6" y1="352.9" x2="424.6" y2="355.29999999999995" stroke="#231f20" stroke-width="1"/><text x="425.2" y="367.2" font-size="10.9" text-anchor="middle" fill="#231f20" stroke="#231f20" stroke-width="0.18">3k</text><line x1="451.5" y1="352.9" x2="451.5" y2="355.29999999999995" stroke="#231f20" stroke-width="1"/><text x="452" y="367.2" font-size="10.9" text-anchor="middle" fill="#231f20" stroke="#231f20" stroke-width="0.18">4k</text><line x1="478.5" y1="352.9" x2="478.5" y2="355.29999999999995" stroke="#231f20" stroke-width="1"/><text x="477.2" y="367.2" font-size="10.9" text-anchor="middle" fill="#231f20" stroke="#231f20" stroke-width="0.18">5k</text><text x="410.9" y="378" font-size="11.8" text-anchor="middle" fill="#231f20" stroke="#231f20" stroke-width="0.18">Exon size (bp)</text><text x="0" y="0" font-size="11.8" text-anchor="middle" fill="#231f20" stroke="#231f20" stroke-width="0.18" transform="translate(314,280.5) rotate(-90)">Density (10^-2)</text><rect x="410.9" y="234.2" width="11.3" height="10.6" fill="#f4a09a" stroke="#3a3a3a" stroke-width="0.9"/><rect x="410.9" y="247.9" width="11.3" height="10.6" fill="#4cc4c9" stroke="#3a3a3a" stroke-width="0.9"/><text x="424.9" y="244.29999999999998" font-size="11.6" fill="#231f20" stroke="#231f20" stroke-width="0.18">lncRNA</text><text x="424.9" y="258.0" font-size="11.6" fill="#231f20" stroke="#231f20" stroke-width="0.18">mRNA</text><text x="530.7" y="210" font-size="11.6" textLength="124.5" lengthAdjust="spacingAndGlyphs" fill="#231f20" stroke="#231f20" stroke-width="0.18">Intron length distribution</text><path d="M529.80,300.00 C529.92,288.55 530.22,237.63 530.50,231.30 C530.78,224.97 531.15,252.88 531.50,262.00 C531.85,271.12 532.18,276.83 532.60,286.00 C533.02,295.17 533.35,308.92 534.00,317.00 C534.65,325.08 535.33,330.47 536.50,334.50 C537.67,338.53 539.20,339.80 541.00,341.20 C542.80,342.60 544.13,342.53 547.30,342.90 C550.47,343.27 551.22,343.05 560.00,343.40 C568.78,343.75 583.83,344.57 600.00,345.00 C616.17,345.43 647.50,345.83 657.00,346.00 L657.00,346.5 L529.80,346.5 Z" fill="#e9776f" stroke="#2a2a2a" stroke-width="0.8" fill-opacity="0.78" stroke-opacity="0.85"/><path d="M529.80,342.90 C532.33,342.85 539.97,342.78 545.00,342.60 C550.03,342.42 553.42,342.13 560.00,341.80 C566.58,341.47 576.17,340.68 584.50,340.60 C592.83,340.52 601.58,340.97 610.00,341.30 C618.42,341.63 627.17,342.15 635.00,342.60 C642.83,343.05 653.33,343.77 657.00,344.00 L657.00,346.5 L529.80,346.5 Z" fill="#13acac" stroke="#2a2a2a" stroke-width="0.8" fill-opacity="0.75" stroke-opacity="0.85"/><rect x="529.5" y="220" width="127.5" height="132.3" fill="none" stroke="#231f20" stroke-width="1.3"/><line x1="526.5" y1="219.9" x2="529.5" y2="219.9" stroke="#231f20" stroke-width="1.1"/><text x="525.2" y="223.5" font-size="11.2" text-anchor="end" fill="#231f20" stroke="#231f20" stroke-width="0.18">0.20</text><line x1="526.5" y1="251.5" x2="529.5" y2="251.5" stroke="#231f20" stroke-width="1.1"/><text x="525.2" y="255.1" font-size="11.2" text-anchor="end" fill="#231f20" stroke="#231f20" stroke-width="0.18">0.15</text><line x1="526.5" y1="283" x2="529.5" y2="283" stroke="#231f20" stroke-width="1.1"/><text x="525.2" y="286.6" font-size="11.2" text-anchor="end" fill="#231f20" stroke="#231f20" stroke-width="0.18">0.10</text><line x1="526.5" y1="314.9" x2="529.5" y2="314.9" stroke="#231f20" stroke-width="1.1"/><text x="525.2" y="318.5" font-size="11.2" text-anchor="end" fill="#231f20" stroke="#231f20" stroke-width="0.18">0.05</text><line x1="526.5" y1="346.7" x2="529.5" y2="346.7" stroke="#231f20" stroke-width="1.1"/><text x="525.2" y="350.3" font-size="11.2" text-anchor="end" fill="#231f20" stroke="#231f20" stroke-width="0.18">0.00</text><line x1="530.5" y1="352.3" x2="530.5" y2="354.7" stroke="#231f20" stroke-width="1"/><text x="530.8" y="366.4" font-size="10.9" text-anchor="middle" fill="#231f20" stroke="#231f20" stroke-width="0.18">0</text><line x1="572.2" y1="352.3" x2="572.2" y2="354.7" stroke="#231f20" stroke-width="1"/><text x="572.2" y="366.4" font-size="10.9" text-anchor="middle" fill="#231f20" stroke="#231f20" stroke-width="0.18">5k</text><line x1="614.2" y1="352.3" x2="614.2" y2="354.7" stroke="#231f20" stroke-width="1"/><text x="613.9" y="366.4" font-size="10.9" text-anchor="middle" fill="#231f20" stroke="#231f20" stroke-width="0.18">10k</text><line x1="656.5" y1="352.3" x2="656.5" y2="354.7" stroke="#231f20" stroke-width="1"/><text x="654.8" y="366.4" font-size="10.9" text-anchor="middle" fill="#231f20" stroke="#231f20" stroke-width="0.18">15k</text><text x="597" y="378" font-size="11.8" text-anchor="middle" fill="#231f20" stroke="#231f20" stroke-width="0.18">Intron size (bp)</text><text x="0" y="0" font-size="11.8" text-anchor="middle" fill="#231f20" stroke="#231f20" stroke-width="0.18" transform="translate(497.4,280.5) rotate(-90)">Density (10^-2)</text><rect x="593.5" y="232.4" width="11.3" height="10.6" fill="#f4a09a" stroke="#3a3a3a" stroke-width="0.9"/><rect x="593.5" y="246.4" width="11.3" height="10.6" fill="#4cc4c9" stroke="#3a3a3a" stroke-width="0.9"/><text x="607.5" y="242.5" font-size="11.6" fill="#231f20" stroke="#231f20" stroke-width="0.18">lncRNA</text><text x="607.5" y="256.5" font-size="11.6" fill="#231f20" stroke="#231f20" stroke-width="0.18">mRNA</text><text x="14.8" y="404.1" font-size="16.5" fill="#231f20" stroke="#231f20" stroke-width="0.18">E</text><text x="77.9" y="408.8" font-size="11.6" textLength="56.8" lengthAdjust="spacingAndGlyphs" fill="#231f20" stroke="#231f20" stroke-width="0.18">Expression</text><line x1="62.4" y1="420.7" x2="62.4" y2="563.8" stroke="#231f20" stroke-width="1.1"/><line x1="62" y1="563.3" x2="157.6" y2="563.3" stroke="#231f20" stroke-width="1.1"/><line x1="59.5" y1="421.65" x2="62.4" y2="421.65" stroke="#231f20" stroke-width="1"/><text x="59.1" y="425.45" font-size="10.8" text-anchor="end" fill="#231f20" stroke="#231f20" stroke-width="0.18">15</text><line x1="59.5" y1="466.69999999999993" x2="62.4" y2="466.69999999999993" stroke="#231f20" stroke-width="1"/><text x="59.1" y="470.49999999999994" font-size="10.8" text-anchor="end" fill="#231f20" stroke="#231f20" stroke-width="0.18">10</text><line x1="59.5" y1="511.74999999999994" x2="62.4" y2="511.74999999999994" stroke="#231f20" stroke-width="1"/><text x="59.1" y="515.55" font-size="10.8" text-anchor="end" fill="#231f20" stroke="#231f20" stroke-width="0.18">5</text><line x1="59.5" y1="556.8" x2="62.4" y2="556.8" stroke="#231f20" stroke-width="1"/><text x="59.1" y="560.5999999999999" font-size="10.8" text-anchor="end" fill="#231f20" stroke="#231f20" stroke-width="0.18">0</text><line x1="87.6" y1="426.2" x2="87.6" y2="427.8" stroke="#111" stroke-width="1.5"/><line x1="87.6" y1="432" x2="87.6" y2="435" stroke="#111" stroke-width="1.5"/><line x1="87.6" y1="437.9" x2="87.6" y2="444.7" stroke="#111" stroke-width="1.5"/><line x1="87.6" y1="449.9" x2="87.6" y2="454.1" stroke="#111" stroke-width="1.5"/><line x1="87.6" y1="455.9" x2="87.6" y2="458.4" stroke="#111" stroke-width="1.5"/><line x1="87.6" y1="463.4" x2="87.6" y2="551" stroke="#111" stroke-width="1.5"/><rect x="70.5" y="551" width="34.3" height="5.2" fill="#b5473f" stroke="#222" stroke-width="0.9"/><line x1="70.5" y1="553.8" x2="104.8" y2="553.8" stroke="#e07a70" stroke-width="1"/><line x1="87.6" y1="563.3" x2="87.6" y2="566.3" stroke="#231f20" stroke-width="1"/><line x1="130.7" y1="456.8" x2="130.7" y2="493.7" stroke="#3a3a3a" stroke-width="1.8"/><line x1="130.7" y1="493.7" x2="130.7" y2="530.3" stroke="#777" stroke-width="1"/><rect x="113.5" y="530.3" width="34.5" height="25.3" fill="#62b8e0" stroke="#222" stroke-width="1"/><line x1="113.5" y1="542.3" x2="148" y2="542.3" stroke="#222" stroke-width="1.2"/><line x1="130.7" y1="555.6" x2="130.7" y2="558" stroke="#777" stroke-width="1"/><line x1="130.7" y1="563.3" x2="130.7" y2="566.3" stroke="#231f20" stroke-width="1"/><text x="90.3" y="577.7" font-size="11.6" text-anchor="middle" fill="#231f20" stroke="#231f20" stroke-width="0.18">lncRNA</text><text x="130.6" y="577.7" font-size="11.6" text-anchor="middle" fill="#231f20" stroke="#231f20" stroke-width="0.18">mRNA</text><text x="0" y="0" font-size="11.9" text-anchor="middle" fill="#231f20" stroke="#231f20" stroke-width="0.18" transform="translate(40.2,489.3) rotate(-90)">Log2(FPKM+1)</text><text x="186.8" y="404.6" font-size="16.5" fill="#231f20" stroke="#231f20" stroke-width="0.18">F</text><text x="233" y="409.4" font-size="11.6" textLength="102" lengthAdjust="spacingAndGlyphs" fill="#231f20" stroke="#231f20" stroke-width="0.18">Temporal specificity</text><line x1="241.5" y1="435.7" x2="241.5" y2="564" stroke="#231f20" stroke-width="1.2"/><line x1="241.5" y1="563.4" x2="340" y2="563.4" stroke="#231f20" stroke-width="1.2"/><line x1="238.5" y1="435.8" x2="241.5" y2="435.8" stroke="#231f20" stroke-width="1.1"/><text x="236.8" y="437.90000000000003" font-size="11.2" text-anchor="end" fill="#231f20" stroke="#231f20" stroke-width="0.18">1.00</text><line x1="238.5" y1="470.2" x2="241.5" y2="470.2" stroke="#231f20" stroke-width="1.1"/><text x="236.8" y="472.3" font-size="11.2" text-anchor="end" fill="#231f20" stroke="#231f20" stroke-width="0.18">0.75</text><line x1="238.5" y1="504.6" x2="241.5" y2="504.6" stroke="#231f20" stroke-width="1.1"/><text x="236.8" y="506.70000000000005" font-size="11.2" text-anchor="end" fill="#231f20" stroke="#231f20" stroke-width="0.18">0.50</text><line x1="238.5" y1="539.0" x2="241.5" y2="539.0" stroke="#231f20" stroke-width="1.1"/><text x="236.8" y="541.1" font-size="11.2" text-anchor="end" fill="#231f20" stroke="#231f20" stroke-width="0.18">0.25</text><path d="M283.40,435.60 C283.53,435.73 284.13,435.90 284.20,436.40 C284.27,436.90 284.23,437.90 283.80,438.60 C283.37,439.30 282.60,439.87 281.60,440.60 C280.60,441.33 279.13,442.10 277.80,443.00 C276.47,443.90 274.70,445.00 273.60,446.00 C272.50,447.00 271.65,447.67 271.20,449.00 C270.75,450.33 270.80,452.17 270.90,454.00 C271.00,455.83 271.35,457.60 271.80,460.00 C272.25,462.40 272.87,465.00 273.60,468.40 C274.33,471.80 275.43,475.98 276.20,480.40 C276.97,484.82 278.23,490.48 278.20,494.90 C278.17,499.32 276.93,502.48 276.00,506.90 C275.07,511.32 273.65,516.17 272.60,521.40 C271.55,526.63 270.67,532.68 269.70,538.30 C268.73,543.92 267.28,552.30 266.80,555.10 L266.40,555.10 C265.92,552.30 264.47,543.92 263.50,538.30 C262.53,532.68 261.65,526.63 260.60,521.40 C259.55,516.17 258.13,511.32 257.20,506.90 C256.27,502.48 255.03,499.32 255.00,494.90 C254.97,490.48 256.23,484.82 257.00,480.40 C257.77,475.98 258.87,471.80 259.60,468.40 C260.33,465.00 260.95,462.40 261.40,460.00 C261.85,457.60 262.20,455.83 262.30,454.00 C262.40,452.17 262.45,450.33 262.00,449.00 C261.55,447.67 260.70,447.00 259.60,446.00 C258.50,445.00 256.73,443.90 255.40,443.00 C254.07,442.10 252.60,441.33 251.60,440.60 C250.60,439.87 249.83,439.30 249.40,438.60 C248.97,437.90 248.93,436.90 249.00,436.40 C249.07,435.90 249.67,435.73 249.80,435.60 Z" fill="#e8675f" stroke="#333" stroke-width="0.8"/><path d="M309.10,435.70 C309.30,435.78 310.00,435.88 310.30,436.20 C310.60,436.52 310.78,435.45 310.90,437.60 C311.02,439.75 310.87,445.18 311.00,449.10 C311.13,453.02 311.33,457.08 311.70,461.10 C312.07,465.12 312.55,469.18 313.20,473.20 C313.85,477.22 314.70,481.18 315.60,485.20 C316.50,489.22 317.50,493.28 318.60,497.30 C319.70,501.32 321.00,505.28 322.20,509.30 C323.40,513.32 324.83,517.78 325.80,521.40 C326.77,525.02 327.98,528.18 328.00,531.00 C328.02,533.82 327.12,536.28 325.90,538.30 C324.68,540.32 322.48,541.50 320.70,543.10 C318.92,544.70 316.68,546.30 315.20,547.90 C313.72,549.50 312.85,551.10 311.80,552.70 C310.75,554.30 309.38,556.70 308.90,557.50 L308.50,557.50 C308.02,556.70 306.65,554.30 305.60,552.70 C304.55,551.10 303.68,549.50 302.20,547.90 C300.72,546.30 298.48,544.70 296.70,543.10 C294.92,541.50 292.72,540.32 291.50,538.30 C290.28,536.28 289.38,533.82 289.40,531.00 C289.42,528.18 290.63,525.02 291.60,521.40 C292.57,517.78 294.00,513.32 295.20,509.30 C296.40,505.28 297.70,501.32 298.80,497.30 C299.90,493.28 300.90,489.22 301.80,485.20 C302.70,481.18 303.55,477.22 304.20,473.20 C304.85,469.18 305.33,465.12 305.70,461.10 C306.07,457.08 306.27,453.02 306.40,449.10 C306.53,445.18 306.38,439.75 306.50,437.60 C306.62,435.45 306.80,436.52 307.10,436.20 C307.40,435.88 308.10,435.78 308.30,435.70 Z" fill="#22a6a6" stroke="#333" stroke-width="0.8"/><line x1="266.6" y1="563.4" x2="266.6" y2="565.8" stroke="#231f20" stroke-width="1"/><line x1="308.7" y1="563.4" x2="308.7" y2="565.8" stroke="#231f20" stroke-width="1"/><text x="264" y="577.5" font-size="11.6" text-anchor="middle" fill="#231f20" stroke="#231f20" stroke-width="0.18">lncRNA</text><text x="311.2" y="577.5" font-size="11.6" text-anchor="middle" fill="#231f20" stroke="#231f20" stroke-width="0.18">mRNA</text><text x="0" y="0" font-size="11.7" text-anchor="middle" fill="#231f20" stroke="#231f20" stroke-width="0.18" transform="translate(206.2,492.4) rotate(-90)">Specific Expression (Tau)</text><text x="361.3" y="405.9" font-size="16.5" fill="#231f20" stroke="#231f20" stroke-width="0.18">G</text><path d="M438.3,479.6 L498.60,479.60 A60.3,60.3 0 0 1 497.92,488.66 Z" fill="#5bb65f" stroke="#3d3d4a" stroke-width="0.6"/><path d="M438.3,479.6 L497.92,488.66 A60.3,60.3 0 0 1 480.67,522.51 Z" fill="#a7d9a0" stroke="#3d3d4a" stroke-width="0.6"/><path d="M438.3,479.6 L480.67,522.51 A60.3,60.3 0 0 1 473.44,528.61 Z" fill="#fcf49b" stroke="#3d3d4a" stroke-width="0.6"/><path d="M438.3,479.6 L473.44,528.61 A60.3,60.3 0 0 1 467.68,532.26 Z" fill="#e25f6c" stroke="#3d3d4a" stroke-width="0.6"/><path d="M438.3,479.6 L467.68,532.26 A60.3,60.3 0 0 1 445.86,539.42 Z" fill="#735694" stroke="#3d3d4a" stroke-width="0.6"/><path d="M438.3,479.6 L445.86,539.42 A60.3,60.3 0 1 1 498.60,479.60 Z" fill="#8fb6e8" stroke="#3d3d4a" stroke-width="0.6"/><text x="408.9" y="456.3" font-size="10.3" fill="#1f2b45" stroke="#1f2b45" stroke-width="0.18" font-weight="bold">77.1%</text><text x="504" y="488.2" font-size="11.3" textLength="25.7" lengthAdjust="spacingAndGlyphs" fill="#231f20" stroke="#231f20" stroke-width="0.18">2.4%</text><text x="494.8" y="510.7" font-size="11.3" textLength="31.6" lengthAdjust="spacingAndGlyphs" fill="#231f20" stroke="#231f20" stroke-width="0.18">10.2%</text><text x="481.8" y="531.5" font-size="11.3" textLength="26" lengthAdjust="spacingAndGlyphs" fill="#231f20" stroke="#231f20" stroke-width="0.18">2.5%</text><text x="467.9" y="543.9" font-size="11.3" textLength="24.9" lengthAdjust="spacingAndGlyphs" fill="#231f20" stroke="#231f20" stroke-width="0.18">1.8%</text><text x="441.3" y="551.4" font-size="11.3" textLength="25.3" lengthAdjust="spacingAndGlyphs" fill="#231f20" stroke="#231f20" stroke-width="0.18">6.1%</text><line x1="499" y1="483.3" x2="502.5" y2="483.3" stroke="#555" stroke-width="0.6"/><line x1="493.6" y1="504.5" x2="495.6" y2="505.5" stroke="#555" stroke-width="0.6"/><line x1="478.5" y1="525" x2="480.8" y2="527.5" stroke="#555" stroke-width="0.6"/><line x1="470" y1="531.5" x2="471.5" y2="534.5" stroke="#555" stroke-width="0.6"/><line x1="456.6" y1="537.5" x2="457.3" y2="540.5" stroke="#555" stroke-width="0.6"/><rect x="532" y="431.7" width="10.3" height="6" fill="#8fb6e8"/><text x="543.7" y="437.9" font-size="10.3" fill="#231f20" stroke="#231f20" stroke-width="0.18">intergenic</text><rect x="532" y="444.71999999999997" width="10.3" height="6" fill="#4aa855"/><text x="543.7" y="450.91999999999996" font-size="10.3" fill="#231f20" stroke="#231f20" stroke-width="0.18">overlapping</text><rect x="532" y="457.74" width="10.3" height="6" fill="#a7d9a0"/><text x="543.7" y="463.94" font-size="10.3" fill="#231f20" stroke="#231f20" stroke-width="0.18">sense intronic</text><rect x="532" y="470.76" width="10.3" height="6" fill="#fcf49b"/><text x="543.7" y="476.96" font-size="10.3" fill="#231f20" stroke="#231f20" stroke-width="0.18">antisense intronic</text><rect x="532" y="483.78" width="10.3" height="6" fill="#e25f6c"/><text x="543.7" y="489.97999999999996" font-size="10.3" fill="#231f20" stroke="#231f20" stroke-width="0.18">sense exonic</text><rect x="532" y="496.79999999999995" width="10.3" height="6" fill="#5d4a85"/><text x="543.7" y="502.99999999999994" font-size="10.3" fill="#231f20" stroke="#231f20" stroke-width="0.18">antisense exonic</text></svg></body></html>
